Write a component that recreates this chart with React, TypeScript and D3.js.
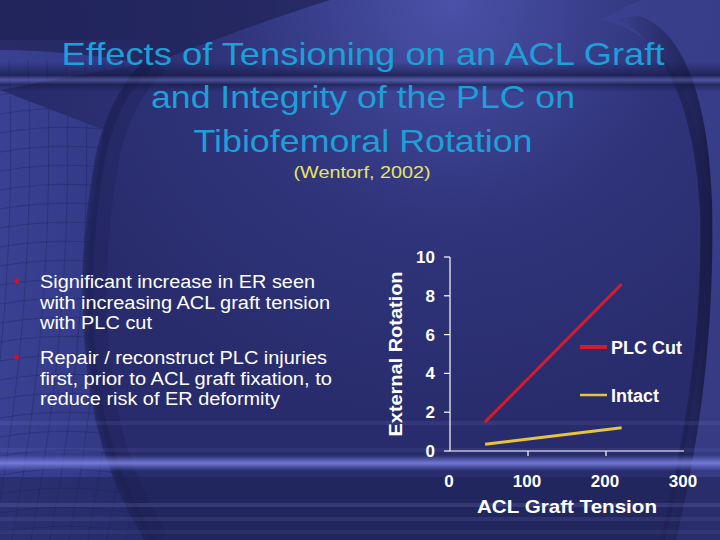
import * as d3 from "d3";

// chart values
const xTicks = [0, 100, 200, 300];
const yTicks = [0, 2, 4, 6, 8, 10];
const plcTension = [45, 220];
const plcER = [1.5, 8.6];
const intactTension = [45, 220];
const intactER = [0.35, 1.2];
const seriesNames = ["PLC Cut", "Intact"];
const seriesColors = ["#d21c2c", "#e6c43c"];

const titleLines = [
  "Effects of Tensioning on an ACL Graft",
  "and Integrity of the PLC on",
  "Tibiofemoral Rotation",
];
const bullets = [
  ["Significant increase in ER seen", "with increasing ACL graft tension", "with PLC cut"],
  ["Repair / reconstruct PLC injuries", "first, prior to ACL graft fixation, to", "reduce risk of ER deformity"],
];

const W = 720;
const H = 540;
const font = "'Liberation Sans', Arial, sans-serif";

function Background() {
  const gridX = d3.range(-30, 150, 19);
  const gridY = d3.range(95, 540, 19);
  const streaks = [
    { y: 423, o: 0.1 },
    { y: 450, o: 0.08 },
    { y: 505, o: 0.16 },
    { y: 519, o: 0.1 },
    { y: 532, o: 0.08 },
  ];
  const leftEdge = "M150,62 C120,90 104,130 98,170 C88,230 84,300 92,370 C100,440 120,490 150,540";
  return (
    <g>
      <defs>
        <radialGradient id="glow" cx="450" cy="0" r="430" gradientUnits="userSpaceOnUse">
          <stop offset="0" stopColor="#4b51a8" />
          <stop offset="0.5" stopColor="#30357c" />
          <stop offset="1" stopColor="#282c6c" />
        </radialGradient>
        <linearGradient id="rightEdge" x1="0" x2="1" y1="0" y2="0">
          <stop offset="0" stopColor="#1c1f50" stopOpacity="0" />
          <stop offset="0.8" stopColor="#1a1d4c" stopOpacity="0.75" />
          <stop offset="1" stopColor="#15183e" stopOpacity="0.9" />
        </linearGradient>
        <linearGradient id="leftShade" x1="0" x2="1" y1="0" y2="0">
          <stop offset="0" stopColor="#3a4192" />
          <stop offset="1" stopColor="#2f3580" />
        </linearGradient>
        <linearGradient id="band" x1="0" x2="0" y1="0" y2="1">
          <stop offset="0" stopColor="#7078d8" stopOpacity="0" />
          <stop offset="0.5" stopColor="#7a80e0" stopOpacity="0.9" />
          <stop offset="1" stopColor="#7078d8" stopOpacity="0" />
        </linearGradient>
        <linearGradient id="topBand" x1="0" x2="0" y1="0" y2="1">
          <stop offset="0" stopColor="#12153a" stopOpacity="0" />
          <stop offset="0.45" stopColor="#12153a" stopOpacity="0.6" />
          <stop offset="0.6" stopColor="#6a70b8" stopOpacity="0.45" />
          <stop offset="0.75" stopColor="#12153a" stopOpacity="0.5" />
          <stop offset="1" stopColor="#12153a" stopOpacity="0" />
        </linearGradient>
        <clipPath id="leftClip">
          <path d={`M0,40 L150,40 L150,62 ${leftEdge.slice(11)} L0,540 Z`} />
        </clipPath>
      </defs>
      <rect x={0} y={0} width={W} height={H} fill="url(#glow)" />
      {/* left lighter area with dark grid */}
      <g clipPath="url(#leftClip)">
        <rect x={0} y={40} width={160} height={500} fill="url(#leftShade)" />
        {gridX.map((x) => (
          <path
            key={"gx" + x}
            d={`M${x + 20},60 Q${x + 30},300 ${x - 15},540`}
            stroke="#222764"
            strokeOpacity={0.45}
            fill="none"
            strokeWidth={1}
          />
        ))}
        {gridY.map((y) => (
          <path
            key={"gy" + y}
            d={`M0,${y} Q80,${y - 14} 160,${y + 6}`}
            stroke="#222764"
            strokeOpacity={0.45}
            fill="none"
            strokeWidth={1}
          />
        ))}
      </g>
      {/* shadow along the left edge */}
      <path d={leftEdge} stroke="#1c2052" strokeOpacity={0.55} strokeWidth={10} fill="none" />
      <path d={leftEdge} stroke="#1c2052" strokeOpacity={0.35} strokeWidth={22} fill="none" transform="translate(8,0)" />
      {/* dark swoosh top-left */}
      <path
        d="M0,0 L330,0 C250,25 190,50 150,64 C100,56 50,50 0,50 Z"
        fill="#1f2256"
        opacity={0.7}
      />
      {/* right dark curve with lighter field beyond */}
      <path
        d="M600,20 C660,30 700,90 706,200 C710,320 690,440 665,540 L720,540 L720,0 L640,0 Z"
        fill="#3e4392"
        opacity={0.65}
      />
      <path
        d="M615,18 C665,40 695,110 700,210 C703,330 685,440 660,540 L676,540 C700,440 715,330 712,200 C708,90 680,30 640,16 Z"
        fill="url(#rightEdge)"
      />
      {/* horizontal streaks */}
      <rect x={0} y={62} width={W} height={30} fill="url(#topBand)" />
      <rect x={0} y={477} width={W} height={63} fill="#1c1f52" opacity={0.5} />
      <rect x={0} y={455} width={W} height={16} fill="url(#band)" />
      {streaks.map((s) => (
        <rect key={s.y} x={0} y={s.y - 2} width={W} height={4} fill="#9aa0f0" opacity={s.o} />
      ))}
    </g>
  );
}

function Chart() {
  const x = d3.scaleLinear().domain([0, 300]).range([450, 684]);
  const y = d3.scaleLinear().domain([0, 10]).range([451, 257]);
  const line = d3
    .line<[number, number]>()
    .x((d) => x(d[0]))
    .y((d) => y(d[1]));
  const series = [
    d3.zip(plcTension, plcER) as [number, number][],
    d3.zip(intactTension, intactER) as [number, number][],
  ];
  const legendY = [347, 395];
  return (
    <g fontFamily={font} fontWeight="bold" fill="#ffffff">
      <line x1={x(0)} x2={x(0)} y1={y(0)} y2={y(10)} stroke="#ffffff" strokeWidth={1.2} />
      <line x1={x(0)} x2={x(300)} y1={y(0)} y2={y(0)} stroke="#ffffff" strokeWidth={1.2} />
      {yTicks.map((t) => (
        <g key={"y" + t}>
          <line x1={x(0) - 6} x2={x(0)} y1={y(t)} y2={y(t)} stroke="#ffffff" strokeWidth={1.2} />
          <text x={435} y={y(t) + 6} fontSize={17} textAnchor="end">
            {t}
          </text>
        </g>
      ))}
      {xTicks.map((t) => (
        <g key={"x" + t}>
          {t > 0 && t < 300 && (
            <line x1={x(t)} x2={x(t)} y1={y(0)} y2={y(0) + 5} stroke="#ffffff" strokeWidth={1.2} />
          )}
          <text x={x(t) - 1} y={487} fontSize={17} textAnchor="middle">
            {t}
          </text>
        </g>
      ))}
      <text x={567} y={513} fontSize={19} textAnchor="middle" textLength={180} lengthAdjust="spacingAndGlyphs">
        ACL Graft Tension
      </text>
      <text
        transform="translate(402,354) rotate(-90)"
        fontSize={19}
        textAnchor="middle"
        textLength={165}
        lengthAdjust="spacingAndGlyphs"
      >
        External Rotation
      </text>
      {series.map((s, i) => (
        <path key={i} d={line(s) ?? ""} stroke={seriesColors[i]} strokeWidth={3} fill="none" />
      ))}
      {seriesNames.map((n, i) => (
        <g key={n}>
          <line x1={580} x2={607} y1={legendY[i]} y2={legendY[i]} stroke={seriesColors[i]} strokeWidth={i === 0 ? 4 : 2.5} />
          <text x={611} y={legendY[i] + 6.5} fontSize={18}>
            {n}
          </text>
        </g>
      ))}
    </g>
  );
}

export default function App() {
  const titleBase = [65, 108, 152];
  const titleWidths = [603, 424, 339];
  const bulletBase = [288, 364];
  const bulletWidths = [
    [275, 290, 112],
    [287, 292, 240],
  ];
  return (
    <svg width={W} height={H} style={{ position: "absolute", left: 0, top: 0, display: "block" }}>
      <Background />
      <g fontFamily={font} textAnchor="middle">
        {titleLines.map((t, i) => (
          <text
            key={t}
            x={363}
            y={titleBase[i]}
            fontSize={32}
            fill="#1e9fd8"
            textLength={titleWidths[i]}
            lengthAdjust="spacingAndGlyphs"
          >
            {t}
          </text>
        ))}
        <text x={362} y={178} fontSize={17} fill="#e8e26a" textLength={137} lengthAdjust="spacingAndGlyphs">
          (Wentorf, 2002)
        </text>
      </g>
      <g fontFamily={font} fill="#ffffff" fontSize={18}>
        {bullets.map((b, bi) => (
          <g key={bi}>
            <circle cx={17} cy={bulletBase[bi] - 7} r={2.6} fill="#c8142c" />
            {b.map((l, li) => (
              <text
                key={l}
                x={40}
                y={bulletBase[bi] + li * 20.5}
                textLength={bulletWidths[bi][li]}
                lengthAdjust="spacingAndGlyphs"
              >
                {l}
              </text>
            ))}
          </g>
        ))}
      </g>
      <Chart />
    </svg>
  );
}
